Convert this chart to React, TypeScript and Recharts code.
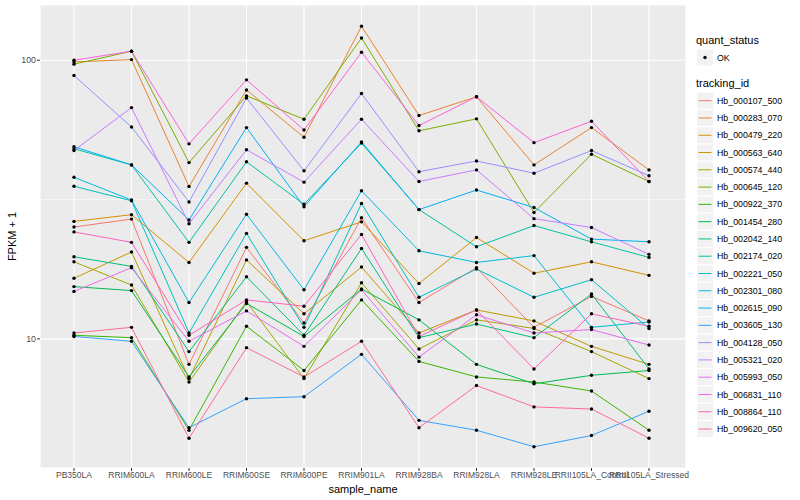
import React from 'react';
import { LineChart, Line, XAxis, YAxis, CartesianGrid, ReferenceLine } from 'recharts';

const categories = [
  'PB350LA', 'RRIM600LA', 'RRIM600LE', 'RRIM600SE', 'RRIM600PE', 'RRIM901LA',
  'RRIM928BA', 'RRIM928LA', 'RRIM928LE', 'RRII105LA_Control', 'RRII105LA_Stressed',
];

const hb000107_500 = [25.2, 26.9, 8.1, 21.3, 11.4, 27.2, 13.5, 18.0, 11.0, 14.2, 11.6];
const hb000283_070 = [98.6, 100.5, 35.2, 78.2, 52.9, 132.4, 63.3, 73.9, 42.1, 57.3, 40.4];
const hb000479_220 = [26.4, 27.9, 18.8, 36.2, 22.5, 26.3, 15.8, 23.1, 17.2, 18.9, 16.9];
const hb000563_640 = [16.5, 20.5, 7.2, 19.2, 12.3, 18.1, 10.5, 12.7, 11.6, 9.4, 8.1];
const hb000574_440 = [18.9, 15.6, 7.0, 13.6, 7.2, 15.9, 9.2, 11.7, 10.9, 9.0, 7.2];
const hb000645_120 = [96.8, 107.7, 42.9, 74.5, 61.4, 120.2, 55.8, 61.6, 28.4, 46.0, 36.7];
const hb000922_370 = [10.3, 10.1, 4.7, 11.1, 7.7, 13.8, 8.3, 7.3, 7.0, 6.5, 4.7];
const hb001454_280 = [15.4, 14.9, 7.3, 13.4, 10.2, 15.1, 11.7, 8.1, 6.9, 7.4, 7.7];
const hb002042_140 = [19.7, 18.2, 9.0, 16.7, 10.3, 21.1, 10.1, 11.3, 10.1, 14.5, 7.8];
const hb002174_020 = [48.1, 42.1, 22.2, 43.2, 30.4, 50.4, 29.1, 21.4, 25.5, 22.3, 19.6];
const hb002221_050 = [35.3, 31.3, 10.5, 23.9, 11.0, 30.6, 14.1, 17.8, 14.1, 16.3, 10.9];
const hb002301_080 = [38.0, 31.5, 13.5, 28.0, 15.0, 34.0, 20.7, 18.8, 19.9, 11.0, 11.5];
const hb002615_090 = [48.9, 42.1, 26.7, 57.3, 29.8, 50.9, 29.1, 34.2, 29.6, 22.8, 22.3];
const hb003605_130 = [10.2, 9.8, 4.8, 6.1, 6.2, 8.8, 5.1, 4.7, 4.1, 4.5, 5.5];
const hb004128_050 = [88.1, 57.6, 31.0, 73.2, 40.1, 75.9, 39.8, 43.5, 39.3, 47.4, 38.5];
const hb005321_020 = [47.4, 67.6, 25.9, 47.7, 36.5, 61.4, 36.7, 40.4, 27.0, 25.1, 20.1];
const hb005993_050 = [14.8, 18.0, 9.8, 12.6, 9.4, 15.0, 8.6, 12.2, 10.5, 10.8, 9.5];
const hb006831_110 = [100.0, 107.7, 50.1, 85.0, 56.2, 106.8, 58.3, 73.9, 50.6, 60.4, 36.7];
const hb008864_110 = [24.2, 22.2, 10.3, 13.8, 13.1, 23.7, 10.2, 12.7, 7.8, 12.3, 11.1];
const hb009620_050 = [10.5, 11.0, 4.4, 9.3, 7.3, 9.8, 4.8, 6.8, 5.7, 5.6, 4.4];

const trackingIds = [
  'Hb_000107_500', 'Hb_000283_070', 'Hb_000479_220', 'Hb_000563_640', 'Hb_000574_440',
  'Hb_000645_120', 'Hb_000922_370', 'Hb_001454_280', 'Hb_002042_140', 'Hb_002174_020',
  'Hb_002221_050', 'Hb_002301_080', 'Hb_002615_090', 'Hb_003605_130', 'Hb_004128_050',
  'Hb_005321_020', 'Hb_005993_050', 'Hb_006831_110', 'Hb_008864_110', 'Hb_009620_050',
];

const seriesValues = [
  hb000107_500, hb000283_070, hb000479_220, hb000563_640, hb000574_440,
  hb000645_120, hb000922_370, hb001454_280, hb002042_140, hb002174_020,
  hb002221_050, hb002301_080, hb002615_090, hb003605_130, hb004128_050,
  hb005321_020, hb005993_050, hb006831_110, hb008864_110, hb009620_050,
];

const seriesColors = [
  '#F8766D', '#EA8331', '#D89000', '#C09B00', '#A3A500',
  '#7CAE00', '#39B600', '#00BB4E', '#00BF7D', '#00C1A3',
  '#00BFC4', '#00BAE0', '#00B0F6', '#35A2FF', '#9590FF',
  '#C77CFF', '#E76BF3', '#FA62DB', '#FF62BC', '#FF6C91',
];

const yTicks = [10, 100];
const yMinorBreaks = [31.62];
const yDomain = [3.44, 157.8];

const rows = categories.map((c, i) => {
  const r: Record<string, string | number> = { sample_name: c };
  trackingIds.forEach((id, k) => {
    r[id] = seriesValues[k][i];
  });
  return r;
});

const FONT = '"Liberation Sans", Arial, Helvetica, sans-serif';

export default function App() {
  return (
    <div style={{ position: 'absolute', left: 0, top: 0, width: 800, height: 500, background: '#fff', fontFamily: FONT }}>
      <LineChart width={800} height={500} data={rows} margin={{ top: 5, right: 114, bottom: 0, left: 0 }}>
        <CartesianGrid fill="#EBEBEB" stroke="#FFFFFF" strokeWidth={1.1} />
        {yMinorBreaks.map((v) => (
          <ReferenceLine key={v} y={v} stroke="#FFFFFF" strokeWidth={0.55} />
        ))}
        <XAxis
          dataKey="sample_name"
          interval={0}
          padding={{ left: 34, right: 37 }}
          height={32}
          axisLine={false}
          tickLine={{ stroke: '#333333' }}
          tickSize={3}
          tickMargin={1}
          tick={{ fontSize: 8.5, fill: '#4D4D4D', fontFamily: FONT }}
        />
        <YAxis
          scale="log"
          domain={yDomain}
          allowDataOverflow
          ticks={yTicks}
          width={40}
          axisLine={false}
          tickLine={{ stroke: '#333333' }}
          tickSize={3}
          tickMargin={1}
          tick={{ fontSize: 8.8, fill: '#4D4D4D', fontFamily: FONT }}
        />
        {trackingIds.map((id, k) => (
          <Line
            key={id}
            dataKey={id}
            type="linear"
            stroke={seriesColors[k]}
            strokeWidth={1}
            dot={false}
            activeDot={false}
            isAnimationActive={false}
          />
        ))}
        {trackingIds.map((id) => (
          <Line
            key={id + '_pt'}
            dataKey={id}
            type="linear"
            stroke="none"
            dot={{ r: 1.7, fill: '#000000', stroke: 'none' }}
            activeDot={false}
            isAnimationActive={false}
            legendType="none"
          />
        ))}
      </LineChart>
      <svg width={800} height={500} style={{ position: 'absolute', left: 0, top: 0, pointerEvents: 'none' }} fontFamily={FONT}>
        <text x={363} y={493} textAnchor="middle" fontSize={11} fill="#000">sample_name</text>
        <text x={16} y={236.5} textAnchor="middle" fontSize={11} fill="#000" transform="rotate(-90, 16, 236.5)">FPKM + 1</text>
        <text x={696} y={44} fontSize={11} fill="#000">quant_status</text>
        <rect x={697} y={49.5} width={16} height={16} fill="#F2F2F2" />
        <circle cx={705} cy={57.5} r={1.7} fill="#000" />
        <text x={717} y={60.5} fontSize={8.8} fill="#000">OK</text>
        <text x={696} y={87} fontSize={11} fill="#000">tracking_id</text>
        {trackingIds.map((id, k) => {
          const cy = 100.7 + k * 17.28;
          return (
            <g key={id}>
              <rect x={697} y={cy - 8} width={16} height={16} fill="#F2F2F2" />
              <line x1={698.5} x2={711.5} y1={cy} y2={cy} stroke={seriesColors[k]} strokeWidth={1} />
              <text x={717} y={cy + 3.1} fontSize={8.8} fill="#000">{id}</text>
            </g>
          );
        })}
      </svg>
    </div>
  );
}
